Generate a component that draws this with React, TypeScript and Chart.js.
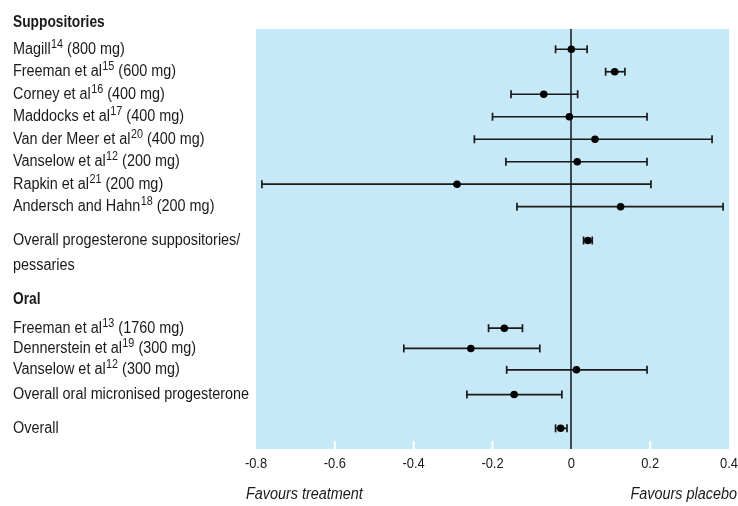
import React, { useEffect, useRef } from "react";
import { Chart, registerables } from "chart.js";

Chart.register(...registerables);

const studyNames = [
  "Magill",
  "Freeman et al",
  "Corney et al",
  "Maddocks et al",
  "Van der Meer et al",
  "Vanselow et al",
  "Rapkin et al",
  "Andersch and Hahn",
  "Overall progesterone suppositories/",
  "Freeman et al",
  "Dennerstein et al",
  "Vanselow et al",
  "Overall oral micronised progesterone",
  "Overall",
];
const refNumbers = ["14", "15", "16", "17", "20", "12", "21", "18", "", "13", "19", "12", "", ""];
const doses = ["800 mg", "600 mg", "400 mg", "400 mg", "400 mg", "200 mg", "200 mg", "200 mg", "", "1760 mg", "300 mg", "300 mg", "", ""];
const estimates = [0.0, 0.11, -0.07, -0.005, 0.06, 0.015, -0.29, 0.125, 0.042, -0.17, -0.255, 0.013, -0.145, -0.027];
const lowerCI = [-0.04, 0.087, -0.153, -0.2, -0.246, -0.166, -0.785, -0.138, 0.031, -0.21, -0.425, -0.164, -0.265, -0.04];
const upperCI = [0.04, 0.136, 0.016, 0.192, 0.357, 0.192, 0.202, 0.385, 0.053, -0.124, -0.08, 0.192, -0.024, -0.011];
const rowPositions = [1, 2, 3, 4, 5, 6, 7, 8, 9.5, 13.4, 14.3, 15.25, 16.35, 17.85];
const groupHeaders = ["Suppositories", "Oral"];
const headerRows = [-0.18, 12.14];
const extraLines = ["pessaries"];
const extraLineRows = [10.6];
const xTickValues = [-0.8, -0.6, -0.4, -0.2, 0, 0.2, 0.4];
const xTickLabels = ["-0.8", "-0.6", "-0.4", "-0.2", "0", "0.2", "0.4"];
const favourLabels = ["Favours treatment", "Favours placebo"];

const FONT = "'Liberation Sans', Arial, sans-serif";
const TEXT = "#1a1a1a";
const BG = "#c7e8f7";

function drawText(ctx: any, text: string, x: number, y: number, font: string, align: string = "left", sx: number = 0.9) {
  ctx.save();
  ctx.font = font;
  ctx.textAlign = align;
  ctx.textBaseline = "middle";
  ctx.translate(x, y);
  ctx.scale(sx, 1);
  ctx.fillText(text, 0, 0);
  const w = ctx.measureText(text).width * sx;
  ctx.restore();
  return w;
}

const bgPlugin = {
  id: "bgPlugin",
  beforeDraw(chart: any) {
    const { ctx, chartArea } = chart;
    ctx.save();
    ctx.fillStyle = BG;
    ctx.fillRect(chartArea.left, chartArea.top, chartArea.right - chartArea.left, chartArea.bottom - chartArea.top);
    ctx.restore();
  },
  beforeDatasetsDraw(chart: any) {
    const { ctx, chartArea, scales } = chart;
    ctx.save();
    ctx.strokeStyle = "#ffffff";
    ctx.lineWidth = 2;
    xTickValues.forEach((v) => {
      if (v === 0 || v === -0.8 || v === 0.4) return;
      const x = scales.x.getPixelForValue(v);
      ctx.beginPath();
      ctx.moveTo(x, chartArea.bottom);
      ctx.lineTo(x, chartArea.bottom - 8);
      ctx.stroke();
    });
    ctx.restore();
  },
};

const labelPlugin = {
  id: "labelPlugin",
  afterDraw(chart: any) {
    const { ctx, scales, chartArea } = chart;
    const y = scales.y;
    const left = 13;
    ctx.save();
    ctx.fillStyle = TEXT;
    groupHeaders.forEach((h, i) => {
      drawText(ctx, h, left, y.getPixelForValue(headerRows[i]), `bold 16px ${FONT}`, "left", 0.86);
    });
    studyNames.forEach((name, i) => {
      const py = y.getPixelForValue(rowPositions[i]);
      let x = left;
      x += drawText(ctx, name, x, py, `16px ${FONT}`);
      if (refNumbers[i]) {
        x += 0.5;
        x += drawText(ctx, refNumbers[i], x, py - 5, `12px ${FONT}`);
      }
      if (doses[i]) {
        drawText(ctx, ` (${doses[i]})`, x, py, `16px ${FONT}`);
      }
    });
    extraLines.forEach((t, i) => {
      drawText(ctx, t, left, y.getPixelForValue(extraLineRows[i]), `16px ${FONT}`);
    });
    xTickValues.forEach((v, i) => {
      drawText(ctx, xTickLabels[i], scales.x.getPixelForValue(v), chartArea.bottom + 15, `15px ${FONT}`, "center", 0.86);
    });
    drawText(ctx, favourLabels[0], 246, 495, `italic 16px ${FONT}`, "left");
    drawText(ctx, favourLabels[1], 737, 495, `italic 16px ${FONT}`, "right");
    ctx.restore();
  },
};

export default function App() {
  const ref = useRef<HTMLCanvasElement | null>(null);
  useEffect(() => {
    if (!ref.current) return;
    const ciDatasets = studyNames.map((_, i) => ({
      type: "scatter" as const,
      showLine: true,
      data: [
        { x: lowerCI[i], y: rowPositions[i] },
        { x: upperCI[i], y: rowPositions[i] },
      ],
      borderColor: "#1a1a1a",
      borderWidth: 1.7,
      pointStyle: "line",
      pointRotation: 90,
      pointRadius: 4,
      pointBorderWidth: 1.7,
      pointBorderColor: "#1a1a1a",
      pointBackgroundColor: "#1a1a1a",
    }));
    const chart = new Chart(ref.current, {
      type: "scatter",
      data: {
        datasets: [
          {
            data: estimates.map((v, i) => ({ x: v, y: rowPositions[i] })),
            pointRadius: 3.8,
            pointBackgroundColor: "#000",
            pointBorderColor: "#000",
            pointBorderWidth: 0,
          } as any,
          ...ciDatasets,
        ],
      },
      options: {
        animation: false,
        responsive: false,
        layout: { padding: { left: 256, right: 9, top: 29, bottom: 0 } },
        plugins: { legend: { display: false }, tooltip: { enabled: false }, title: { display: false } },
        scales: {
          x: {
            type: "linear",
            min: -0.8,
            max: 0.4,
            afterBuildTicks(scale: any) {
              scale.ticks = xTickValues.map((v) => ({ value: v }));
            },
            afterFit(scale: any) {
              scale.height = 57;
              scale.paddingLeft = 0;
              scale.paddingRight = 0;
            },
            ticks: { display: false },
            grid: {
              drawTicks: false,
              color: (c: any) => (c.tick && Math.abs(c.tick.value) < 1e-9 ? "#3b4b56" : "rgba(0,0,0,0)"),
              lineWidth: 2,
            },
            border: { display: false },
          },
          y: {
            type: "linear",
            display: false,
            reverse: true,
            min: 0.1,
            max: 18.77,
          },
        },
      } as any,
      plugins: [bgPlugin, labelPlugin],
    });
    return () => chart.destroy();
  }, []);
  return (
    <div style={{ position: "fixed", left: 0, top: 0, width: 738, height: 506 }}>
      <canvas ref={ref} width={738} height={506} style={{ display: "block" }} />
    </div>
  );
}
